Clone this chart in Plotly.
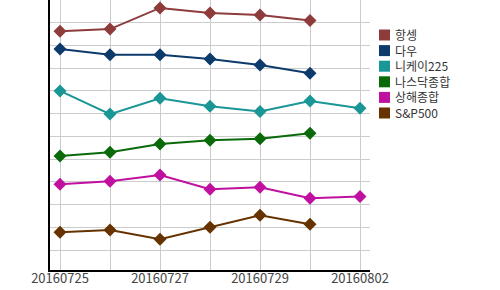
import plotly.graph_objects as go

dates = ["20160725", "20160726", "20160727", "20160728", "20160729", "20160801", "20160802"]
tick_labels = ["20160725", "", "20160727", "", "20160729", "", "20160802"]

series_names = ["항셍", "다우", "니케이225", "나스닥종합", "상해종합", "S&P500"]
hangseng = [9.63, 9.72, 10.65, 10.43, 10.34, 10.10, None]
dow = [8.84, 8.59, 8.59, 8.40, 8.14, 7.78, None]
nikkei = [7.00, 5.98, 6.68, 6.33, 6.09, 6.56, 6.24]
nasdaq = [4.14, 4.30, 4.66, 4.83, 4.89, 5.14, None]
shanghai = [2.89, 3.03, 3.30, 2.67, 2.76, 2.28, 2.35]
sp500 = [0.78, 0.88, 0.47, 1.00, 1.53, 1.13, None]
colors = ["#8E3B3B", "#0B3A6B", "#1A9696", "#0A6A0A", "#C0109F", "#663300"]

values = [hangseng, dow, nikkei, nasdaq, shanghai, sp500]

W, H = 500, 290
fig = go.Figure()
for name, vals, col in zip(series_names, values, colors):
    fig.add_trace(go.Scatter(
        x=dates, y=vals, mode="lines+markers", name=name,
        line=dict(color=col, width=2),
        marker=dict(symbol="diamond", size=10, color=col),
        showlegend=False, connectgaps=False,
    ))

# custom compact legend (paper coordinates computed from pixel layout)
leg_fs = 12
leg_x0, leg_y0, sq = 379, 35, 11
leg_step = 1.3 * leg_fs
for i, col in enumerate(colors):
    cy = leg_y0 + i * leg_step
    fig.add_shape(type="rect", xref="paper", yref="paper",
                  x0=(leg_x0 - 50) / 320, x1=(leg_x0 + sq - 50) / 320,
                  y0=(270 - (cy + sq / 2)) / 270, y1=(270 - (cy - sq / 2)) / 270,
                  fillcolor=col, line=dict(width=0))
mid_y = leg_y0 + (len(series_names) - 1) * leg_step / 2
fig.add_annotation(xref="paper", yref="paper",
                   x=(leg_x0 + sq + 3 - 50) / 320, y=(270 - mid_y) / 270,
                   xanchor="left", yanchor="middle", showarrow=False,
                   align="left", text="<br>".join(series_names),
                   font=dict(size=leg_fs, color="#333333"))

fig.update_layout(
    width=W, height=H,
    margin=dict(l=50, r=130, t=0, b=20),
    paper_bgcolor="white", plot_bgcolor="white",
    font=dict(family="Noto Sans CJK KR, sans-serif", size=12, color="#333333"),
    showlegend=False,
    xaxis=dict(type="category", categoryorder="array", categoryarray=dates,
               range=[-0.2, 6.2], tickvals=dates, ticktext=tick_labels,
               showgrid=True, gridcolor="#CCCCCC", gridwidth=1,
               showline=True, linecolor="black", linewidth=1.5,
               ticks="", ticklabelstandoff=-4,
               tickfont=dict(size=13, color="#444444")),
    yaxis=dict(range=[-0.88, 11.0], tick0=0, dtick=1,
               showticklabels=False, showgrid=True, gridcolor="#CCCCCC",
               gridwidth=1, zeroline=False,
               showline=True, linecolor="black", linewidth=1.5, ticks=""),
)

fig.write_html("out.html")
